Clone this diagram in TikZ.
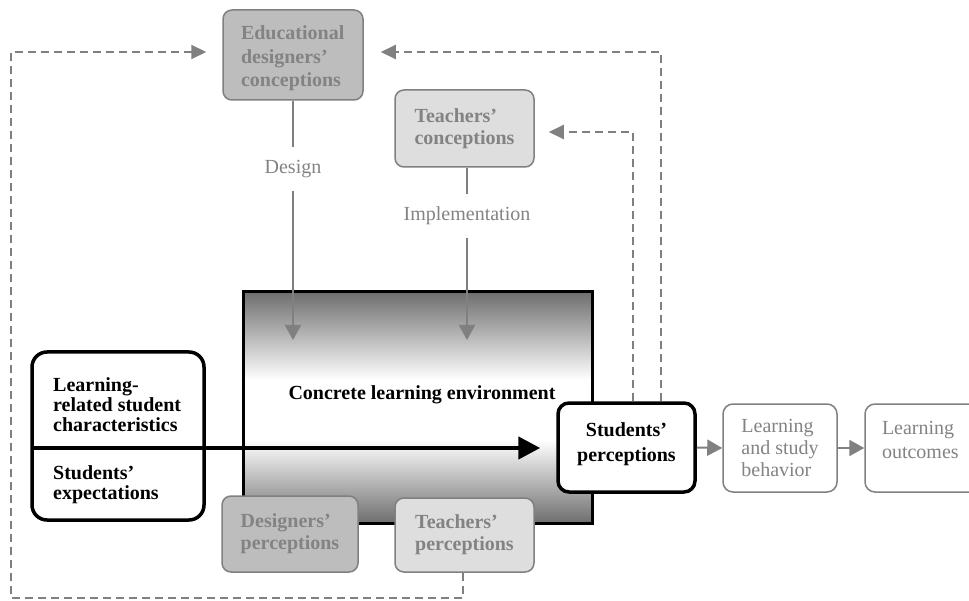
\documentclass[tikz,border=0pt]{standalone}
\usepackage{fontspec}
\setmainfont{Liberation Serif}
\usetikzlibrary{arrows.meta}
\definecolor{gline}{HTML}{808080}
\definecolor{gtext}{HTML}{838383}
\definecolor{dfill}{HTML}{BDBDBD}
\definecolor{lfill}{HTML}{DEDEDE}
\definecolor{shd}{HTML}{6E6E6E}
\pgfdeclareverticalshading{cleshade}{100bp}{color(0bp)=(shd); color(25bp)=(shd); color(43bp)=(white); color(56bp)=(white); color(75bp)=(shd); color(100bp)=(shd)}
\tikzset{
  graybox/.style={draw=gline, line width=1.5pt, rounded corners=9pt, inner sep=0pt,
    text=gtext, font=\bfseries\fontsize{20}{22}\selectfont, align=left},
  outbox/.style={draw=gline, line width=1.5pt, rounded corners=10pt, inner sep=0pt, fill=white,
    text=gtext, font=\fontsize{20}{22}\selectfont, align=left},
  blackbox/.style={draw=black, line width=3.5pt, rounded corners=11pt, inner sep=0pt, fill=white,
    font=\bfseries\fontsize{20}{25}\selectfont, align=center},
  lbl/.style={inner sep=0pt, text=gtext, font=\fontsize{20}{22}\selectfont, minimum height=44pt},
  inner/.style={inner sep=0pt, font=\bfseries\fontsize{20}{20}\selectfont, align=left, anchor=west},
  garrow/.style={draw=gline, line width=2pt, -{Triangle[length=15pt,width=16pt]}},
  dasharrow/.style={draw=gline, line width=2pt, dash pattern=on 8pt off 5pt, -{Triangle[length=15pt,width=14pt]}},
  bigarrow/.style={draw=black, line width=4.5pt, -{Triangle[length=22pt,width=22pt]}}
}
\begin{document}
\begin{tikzpicture}[x=1pt,y=-1pt]
\clip (0,0) rectangle (969,601);
\fill[white] (0,0) rectangle (969,601);
% concrete learning environment
\node[draw=black, line width=3pt, shading=cleshade, minimum width=349pt, minimum height=231pt, inner sep=0pt] (cle) at (417.5,407.5) {};
\node[inner sep=0pt, font=\bfseries\fontsize{20}{20}\selectfont] (cletext) at (422,395) {Concrete learning environment};
% top boxes
\node[draw=gline, line width=1.5pt, rounded corners=9pt, inner sep=0pt, text=gtext, fill=dfill, minimum width=140pt, minimum height=90pt, font=\bfseries\fontsize{20}{23.5}\selectfont] (edu) at (293,55) {\raisebox{-8.5pt}[0pt][0pt]{\parbox{104pt}{\raggedright Educational\\designers’\\conceptions}}};
\node[graybox, fill=lfill, minimum width=139pt, minimum height=77pt] (tc) at (464.5,128.5) {Teachers’\\conceptions};
% bottom boxes
\node[graybox, fill=dfill, minimum width=136pt, minimum height=76pt] (dp) at (290,534) {Designers’\\perceptions};
\node[graybox, fill=lfill, minimum width=139pt, minimum height=74pt] (tp) at (464.5,535) {Teachers’\\perceptions};
% labels
\node[lbl] (design) at (293,169) {Design};
\node[lbl] (impl) at (467,216) {Implementation};
\coordinate (d1) at (293,340);
\coordinate (i1) at (467,340);
\draw[draw=gline, line width=2pt] (edu.south) -- (design.north);
\draw[garrow] (design.south) -- (d1);
\draw[draw=gline, line width=2pt] (impl.north |- tc.south) -- (impl.north);
\draw[garrow] (impl.south) -- (i1);
% left box
\node[draw=black, line width=3.5pt, rounded corners=15pt, fill=white, minimum width=172pt, minimum height=168pt, inner sep=0pt] (lb) at (118,436) {};
\node[inner] (lrsc) at (53,405) {Learning-\\related student\\characteristics};
\node[inner] (sexp) at (53,485) {Students’\\expectations};
% right boxes
\node[blackbox, minimum width=137pt, minimum height=89pt] (sp) at (626.5,447.5) {Students’\\perceptions\\[-15pt]};
\node[outbox, minimum width=114pt, minimum height=88pt] (lsb) at (780,448) {Learning\\and study\\behavior};
\node[draw=gline, line width=1.5pt, rounded corners=10pt, inner sep=0pt, fill=white, text=gtext, font=\fontsize{20}{24}\selectfont, minimum width=120pt, minimum height=88pt] (lo) at (925,448) {\raisebox{3pt}[0pt][0pt]{\parbox{86pt}{\raggedright Learning\\outcomes}}};
% main arrow
\coordinate (a0) at (32,448);
\draw[bigarrow, shorten >=16pt] (a0) -- (a0 -| sp.west);
\draw[garrow] (sp.east) -- (lsb.west);
\draw[garrow] (lsb.east) -- (lo.west);
% dashed feedback loops
\coordinate (lbot) at (11,598);
\coordinate (ltop) at (11,52);
\coordinate (rtop) at (661,52);
\coordinate (rmid) at (633,132);
\draw[dasharrow, shorten >=16pt] (tp.south -| 463,0) |- (lbot) -- (ltop) -- (ltop -| edu.west);
\draw[dasharrow, shorten >=17pt] (sp.north -| rtop) -- (rtop) -- (rtop -| edu.east);
\draw[dasharrow, shorten >=14pt] (sp.north -| rmid) -- (rmid) -- (rmid -| tc.east);
\end{tikzpicture}
\end{document}
